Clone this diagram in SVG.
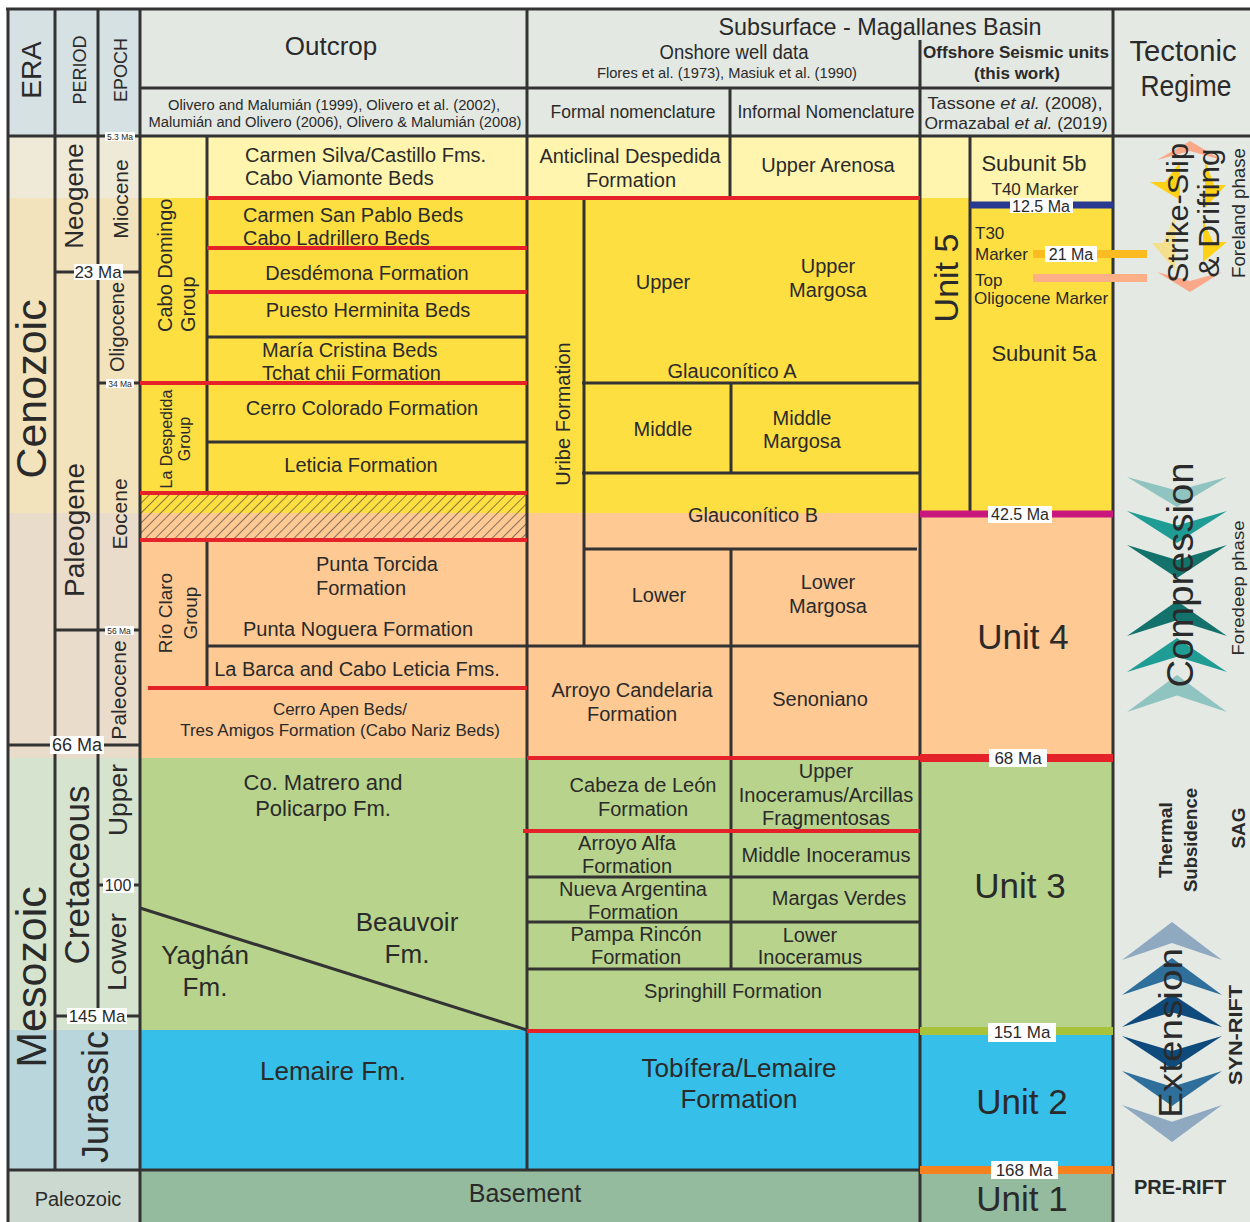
<svg xmlns="http://www.w3.org/2000/svg" width="1250" height="1222" viewBox="0 0 1250 1222">
<style>
text{font-family:"Liberation Sans",Arial,sans-serif;fill:#2a2a2a;dominant-baseline:central;text-anchor:middle}
.s{text-anchor:start}
.b{font-weight:bold}
.ln{stroke:#333;stroke-width:3;fill:none}
.red{stroke:#e52229;stroke-width:4;fill:none}
.lbl{fill:#fff}
</style>
<defs>
<pattern id="hatch" patternUnits="userSpaceOnUse" width="7" height="7" patternTransform="rotate(45)">
<line x1="0" y1="0" x2="0" y2="7" stroke="#333" stroke-width="1.2"/>
</pattern>
</defs>

<g id="bands">
<rect x="8" y="9" width="132" height="127" fill="#d6e1e4"/>
<rect x="140" y="9" width="973" height="127" fill="#e3e8e3"/>
<rect x="1113" y="9" width="137" height="1213" fill="#e4e9e4"/>
<rect x="8" y="136" width="132" height="62" fill="#efe9d7"/>
<rect x="8" y="198" width="132" height="315" fill="#f3e3bd"/>
<rect x="8" y="513" width="132" height="245" fill="#eadccb"/>
<rect x="8" y="758" width="132" height="272" fill="#d6e4cf"/>
<rect x="8" y="1030" width="132" height="140" fill="#b9d6dc"/>
<rect x="8" y="1170" width="132" height="52" fill="#ccd9d0"/>
<rect x="140" y="136" width="973" height="62" fill="#fff5ae"/>
<rect x="140" y="198" width="973" height="315" fill="#fedf42"/>
<rect x="970" y="198" width="143" height="7" fill="#fff5ae"/>
<rect x="140" y="513" width="973" height="245" fill="#fec993"/>
<rect x="140" y="758" width="973" height="272" fill="#b8d48c"/>
<rect x="140" y="1030" width="973" height="140" fill="#36bfe9"/>
<rect x="140" y="1170" width="973" height="52" fill="#95bb9f"/>
<rect x="140" y="493" width="387" height="47" fill="url(#hatch)"/>
</g>

<g id="grid">
<line class="ln" x1="6" y1="9" x2="1250" y2="9"/>
<line class="ln" x1="8" y1="9" x2="8" y2="1222"/>
<line class="ln" x1="55" y1="9" x2="55" y2="1170"/>
<line class="ln" x1="98" y1="9" x2="98" y2="1016"/>
<line class="ln" x1="140" y1="9" x2="140" y2="1222"/>
<line class="ln" x1="527" y1="9" x2="527" y2="1170"/>
<line class="ln" x1="920" y1="40" x2="920" y2="1222"/>
<line class="ln" x1="1113" y1="9" x2="1113" y2="1222"/>
<line class="ln" x1="140" y1="88" x2="1113" y2="88"/>
<line class="ln" x1="8" y1="136" x2="1250" y2="136"/>
<line class="ln" x1="8" y1="1170" x2="1113" y2="1170"/>
<line class="ln" x1="730" y1="88" x2="730" y2="198"/>
<line class="ln" x1="55" y1="272" x2="140" y2="272"/>
<line class="ln" x1="98" y1="383" x2="140" y2="383"/>
<line class="ln" x1="55" y1="630" x2="140" y2="630"/>
<line class="ln" x1="8" y1="745" x2="140" y2="745"/>
<line class="ln" x1="98" y1="885" x2="140" y2="885"/>
<line class="ln" x1="55" y1="1016" x2="140" y2="1016"/>
<line class="ln" x1="207" y1="136" x2="207" y2="493"/>
<line class="ln" x1="207" y1="540" x2="207" y2="688"/>
<line class="ln" x1="207" y1="337" x2="527" y2="337"/>
<line class="ln" x1="207" y1="442" x2="527" y2="442"/>
<line class="ln" x1="207" y1="646" x2="920" y2="646"/>
<line class="ln" x1="140" y1="908" x2="527" y2="1030"/>
<line class="ln" x1="584" y1="198" x2="584" y2="646"/>
<line class="ln" x1="582" y1="383" x2="920" y2="383"/>
<line class="ln" x1="582" y1="473" x2="920" y2="473"/>
<line class="ln" x1="731" y1="383" x2="731" y2="473"/>
<line class="ln" x1="584" y1="549" x2="917" y2="549"/>
<line class="ln" x1="731" y1="549" x2="731" y2="969"/>
<line class="ln" x1="527" y1="877" x2="920" y2="877"/>
<line class="ln" x1="527" y1="922" x2="920" y2="922"/>
<line class="ln" x1="527" y1="969" x2="920" y2="969"/>
<line class="ln" x1="970" y1="136" x2="970" y2="511"/>
</g>

<g id="red-boundaries">
<line class="red" x1="207" y1="198" x2="920" y2="198"/>
<line class="red" x1="207" y1="248" x2="527" y2="248"/>
<line class="red" x1="207" y1="292" x2="527" y2="292"/>
<line class="red" x1="140" y1="383" x2="527" y2="383"/>
<line class="red" x1="140" y1="493" x2="527" y2="493"/>
<line class="red" x1="140" y1="540" x2="527" y2="540"/>
<line class="red" x1="148" y1="688" x2="527" y2="688"/>
<line class="red" x1="527" y1="758" x2="920" y2="758"/>
<line class="red" x1="523" y1="831" x2="920" y2="831"/>
<line class="red" x1="527" y1="1031" x2="920" y2="1031"/>
</g>

<g id="seismic-horizons">
<line x1="970" y1="205" x2="1113" y2="205" stroke="#2a3990" stroke-width="7"/>
<line x1="1033" y1="254" x2="1147" y2="254" stroke="#fbbb21" stroke-width="8"/>
<line x1="1033" y1="278" x2="1147" y2="278" stroke="#fdb088" stroke-width="8"/>
<line x1="920" y1="514" x2="1113" y2="514" stroke="#c9177e" stroke-width="7"/>
<line x1="920" y1="758" x2="1113" y2="758" stroke="#e52229" stroke-width="8"/>
<line x1="920" y1="1031" x2="1113" y2="1031" stroke="#a9c23b" stroke-width="8"/>
<line x1="920" y1="1170" x2="1113" y2="1170" stroke="#f5821f" stroke-width="8"/>
<rect class="lbl" x="1010" y="198" width="63" height="15"/><text x="1041" y="206" font-size="16">12.5 Ma</text>
<rect class="lbl" x="1045" y="246" width="52" height="16"/><text x="1071" y="254" font-size="16">21 Ma</text>
<rect class="lbl" x="988" y="506" width="64" height="17"/><text x="1020" y="514.5" font-size="16">42.5 Ma</text>
<rect class="lbl" x="989" y="749" width="58" height="18"/><text x="1018" y="758" font-size="17">68 Ma</text>
<rect class="lbl" x="988" y="1023" width="68" height="19"/><text x="1022" y="1032" font-size="17">151 Ma</text>
<rect class="lbl" x="991" y="1161" width="67" height="18"/><text x="1024" y="1170" font-size="17">168 Ma</text>
</g>

<g id="age-labels">
<rect class="lbl" x="105" y="132" width="30" height="9"/><text x="120" y="136.5" font-size="8.5">5.3 Ma</text>
<rect class="lbl" x="74" y="264" width="49" height="16"/><text x="98" y="272" font-size="17">23 Ma</text>
<rect class="lbl" x="106" y="379" width="28" height="9"/><text x="120" y="383.5" font-size="8.5">34 Ma</text>
<rect class="lbl" x="105" y="626" width="29" height="9"/><text x="119" y="630.5" font-size="8.5">56 Ma</text>
<rect class="lbl" x="50" y="736" width="54" height="18"/><text x="77" y="745" font-size="18">66 Ma</text>
<rect class="lbl" x="103" y="878" width="31" height="15"/><text x="118" y="885.5" font-size="16">100</text>
<rect class="lbl" x="67" y="1008" width="60" height="16"/><text x="97" y="1016" font-size="17">145 Ma</text>
</g>

<g id="header">
<text transform="translate(31,70) rotate(-90)" font-size="28">ERA</text>
<text transform="translate(80,70) rotate(-90)" font-size="18">PERIOD</text>
<text transform="translate(121,70) rotate(-90)" font-size="18">EPOCH</text>
<text x="331" y="46" font-size="26">Outcrop</text>
<text x="334" y="104" font-size="15.5" textLength="332" lengthAdjust="spacingAndGlyphs">Olivero and Malumián (1999), Olivero et al. (2002),</text>
<text x="335" y="121" font-size="15.5" textLength="373" lengthAdjust="spacingAndGlyphs">Malumián and Olivero (2006), Olivero &amp; Malumián (2008)</text>
<text x="880" y="26" font-size="24" textLength="323" lengthAdjust="spacingAndGlyphs">Subsurface - Magallanes Basin</text>
<text x="734" y="52" font-size="20" textLength="149" lengthAdjust="spacingAndGlyphs">Onshore well data</text>
<text x="727" y="72" font-size="15" textLength="260" lengthAdjust="spacingAndGlyphs">Flores et al. (1973), Masiuk et al. (1990)</text>
<text class="b" x="1016" y="52" font-size="17" textLength="186" lengthAdjust="spacingAndGlyphs">Offshore Seismic units</text>
<text class="b" x="1017" y="73" font-size="17" textLength="86" lengthAdjust="spacingAndGlyphs">(this work)</text>
<text x="633" y="112" font-size="18" textLength="165" lengthAdjust="spacingAndGlyphs">Formal nomenclature</text>
<text x="826" y="112" font-size="18" textLength="177" lengthAdjust="spacingAndGlyphs">Informal Nomenclature</text>
<text x="1015" y="103" font-size="17" textLength="175" lengthAdjust="spacingAndGlyphs">Tassone <tspan font-style="italic">et al.</tspan> (2008),</text>
<text x="1016" y="123" font-size="17" textLength="183" lengthAdjust="spacingAndGlyphs">Ormazabal <tspan font-style="italic">et al.</tspan> (2019)</text>
<text x="1183" y="50" font-size="30" textLength="107" lengthAdjust="spacingAndGlyphs">Tectonic</text>
<text x="1186" y="85" font-size="30" textLength="91" lengthAdjust="spacingAndGlyphs">Regime</text>
</g>

<g id="chronostratigraphy">
<text transform="translate(31,389) rotate(-90)" font-size="43">Cenozoic</text>
<text transform="translate(31,977) rotate(-90)" font-size="43">Mesozoic</text>
<text x="78" y="1199" font-size="20">Paleozoic</text>
<text transform="translate(74,196) rotate(-90)" font-size="26">Neogene</text>
<text transform="translate(74,530) rotate(-90)" font-size="28">Paleogene</text>
<text transform="translate(76,875) rotate(-90)" font-size="35">Cretaceous</text>
<text transform="translate(95,1097) rotate(-90)" font-size="36">Jurassic</text>
<text transform="translate(120,199) rotate(-90)" font-size="21">Miocene</text>
<text transform="translate(117,327) rotate(-90)" font-size="20">Oligocene</text>
<text transform="translate(119,514) rotate(-90)" font-size="21">Eocene</text>
<text transform="translate(118,690) rotate(-90)" font-size="21">Paleocene</text>
<text transform="translate(118,800) rotate(-90)" font-size="25" textLength="72" lengthAdjust="spacingAndGlyphs">Upper</text>
<text transform="translate(117,952) rotate(-90)" font-size="25" textLength="78" lengthAdjust="spacingAndGlyphs">Lower</text>
</g>

<g id="outcrop">
<text class="s" x="245" y="155" font-size="20">Carmen Silva/Castillo Fms.</text>
<text class="s" x="245" y="178" font-size="20">Cabo Viamonte Beds</text>
<text class="s" x="243" y="215" font-size="20">Carmen San Pablo Beds</text>
<text class="s" x="243" y="238" font-size="20">Cabo Ladrillero Beds</text>
<text x="367" y="273" font-size="20">Desdémona Formation</text>
<text x="368" y="310" font-size="20">Puesto Herminita Beds</text>
<text class="s" x="262" y="350" font-size="20">María Cristina Beds</text>
<text class="s" x="262" y="373" font-size="20">Tchat chii Formation</text>
<text x="362" y="408" font-size="20">Cerro Colorado Formation</text>
<text x="361" y="465" font-size="20">Leticia Formation</text>
<text class="s" transform="translate(165,332) rotate(-90)" font-size="20">Cabo Domingo</text>
<text class="s" transform="translate(188,332) rotate(-90)" font-size="20">Group</text>
<text transform="translate(166,439) rotate(-90)" font-size="16">La Despedida</text>
<text transform="translate(184,439) rotate(-90)" font-size="16">Group</text>
<text transform="translate(165,613) rotate(-90)" font-size="19">Río Claro</text>
<text transform="translate(190,613) rotate(-90)" font-size="19">Group</text>
<text class="s" x="316" y="564" font-size="20">Punta Torcida</text>
<text class="s" x="316" y="588" font-size="20">Formation</text>
<text x="358" y="629" font-size="20">Punta Noguera Formation</text>
<text x="357" y="669" font-size="20">La Barca and Cabo Leticia Fms.</text>
<text x="340" y="709" font-size="17">Cerro Apen Beds/</text>
<text x="340" y="730" font-size="17">Tres Amigos Formation (Cabo Nariz Beds)</text>
<text x="323" y="782" font-size="22">Co. Matrero and</text>
<text x="323" y="808" font-size="22">Policarpo Fm.</text>
<text x="407" y="922" font-size="26">Beauvoir</text>
<text x="407" y="954" font-size="26">Fm.</text>
<text x="205" y="955" font-size="26">Yaghán</text>
<text x="205" y="987" font-size="26">Fm.</text>
<text x="333" y="1071" font-size="26">Lemaire Fm.</text>
<text x="525" y="1193" font-size="25">Basement</text>
</g>

<g id="subsurface">
<text x="630" y="156" font-size="20">Anticlinal Despedida</text>
<text x="631" y="180" font-size="20">Formation</text>
<text x="828" y="165" font-size="20">Upper Arenosa</text>
<text transform="translate(563,414) rotate(-90)" font-size="20">Uribe Formation</text>
<text x="663" y="282" font-size="20">Upper</text>
<text x="828" y="266" font-size="20">Upper</text>
<text x="828" y="290" font-size="20">Margosa</text>
<text x="732" y="371" font-size="20">Glauconítico A</text>
<text x="663" y="429" font-size="20">Middle</text>
<text x="802" y="418" font-size="20">Middle</text>
<text x="802" y="441" font-size="20">Margosa</text>
<text x="753" y="515" font-size="20">Glauconítico B</text>
<text x="659" y="595" font-size="20">Lower</text>
<text x="828" y="582" font-size="20">Lower</text>
<text x="828" y="606" font-size="20">Margosa</text>
<text x="632" y="690" font-size="20">Arroyo Candelaria</text>
<text x="632" y="714" font-size="20">Formation</text>
<text x="820" y="699" font-size="20">Senoniano</text>
<text x="643" y="785" font-size="20">Cabeza de León</text>
<text x="643" y="809" font-size="20">Formation</text>
<text x="826" y="771" font-size="20">Upper</text>
<text x="826" y="795" font-size="20">Inoceramus/Arcillas</text>
<text x="826" y="818" font-size="20">Fragmentosas</text>
<text x="627" y="843" font-size="20">Arroyo Alfa</text>
<text x="627" y="866" font-size="20">Formation</text>
<text x="826" y="855" font-size="20">Middle Inoceramus</text>
<text x="633" y="889" font-size="20">Nueva Argentina</text>
<text x="633" y="912" font-size="20">Formation</text>
<text x="839" y="898" font-size="20">Margas Verdes</text>
<text x="636" y="934" font-size="20">Pampa Rincón</text>
<text x="636" y="957" font-size="20">Formation</text>
<text x="810" y="935" font-size="20">Lower</text>
<text x="810" y="957" font-size="20">Inoceramus</text>
<text x="733" y="991" font-size="20">Springhill Formation</text>
<text x="739" y="1068" font-size="26">Tobífera/Lemaire</text>
<text x="739" y="1099" font-size="26">Formation</text>
</g>

<g id="offshore-units">
<text x="1034" y="163" font-size="22">Subunit 5b</text>
<text x="1035" y="189" font-size="17">T40 Marker</text>
<text transform="translate(946,278) rotate(-90)" font-size="34">Unit 5</text>
<text class="s" x="975" y="233" font-size="17">T30</text>
<text class="s" x="975" y="254" font-size="17">Marker</text>
<text class="s" x="975" y="280" font-size="17">Top</text>
<text class="s" x="974" y="298" font-size="17">Oligocene Marker</text>
<text x="1044" y="353" font-size="22">Subunit 5a</text>
<text x="1023" y="636" font-size="35">Unit 4</text>
<text x="1020" y="885" font-size="35">Unit 3</text>
<text x="1022" y="1101" font-size="35">Unit 2</text>
<text x="1022" y="1198" font-size="35">Unit 1</text>
</g>

<g id="tectonic-regime">
<polygon points="1157,160 1190,151 1222,160 1190,141" fill="#f9a98a"/>
<polygon points="1150,182 1165,182 1180,162 1180,200" fill="#fcd116"/>
<polygon points="1226,185 1214,185 1205,160 1205,208" fill="#fcd116"/>
<polygon points="1152,243 1163,243 1175,215 1175,270" fill="#f4e08c"/>
<polygon points="1227,242 1213,242 1203,220 1203,262" fill="#fcd116"/>
<polygon points="1157,272 1190,281 1222,272 1190,292" fill="#f9a98a"/>
<text transform="translate(1177,213) rotate(-90)" font-size="30" textLength="140" lengthAdjust="spacingAndGlyphs">Strike-Slip</text>
<text transform="translate(1208,213) rotate(-90)" font-size="30" textLength="129" lengthAdjust="spacingAndGlyphs">&amp; Drifting</text>
<text transform="translate(1239,213) rotate(-90)" font-size="18" textLength="130" lengthAdjust="spacingAndGlyphs">Foreland phase</text>

<polygon points="1127,477 1177,490.5 1227,477 1177,507" fill="#8fc4c0"/>
<polygon points="1127,511 1177,525.4 1227,511 1177,543" fill="#1f9d95"/>
<polygon points="1127,545 1177,559.9 1227,545 1177,578" fill="#13736c"/>
<polygon points="1127,636 1177,620.3 1227,636 1177,601" fill="#13736c"/>
<polygon points="1127,672 1177,656.7 1227,672 1177,638" fill="#1f9d95"/>
<polygon points="1127,712 1177,695.4 1227,712 1177,675" fill="#8fc4c0"/>
<text transform="translate(1180,575) rotate(-90)" font-size="36" textLength="225" lengthAdjust="spacingAndGlyphs">Compression</text>
<text transform="translate(1238,588) rotate(-90)" font-size="17" textLength="135" lengthAdjust="spacingAndGlyphs">Foredeep phase</text>

<text class="b" transform="translate(1166,840) rotate(-90)" font-size="18" textLength="76" lengthAdjust="spacingAndGlyphs">Thermal</text>
<text class="b" transform="translate(1191,840) rotate(-90)" font-size="18" textLength="104" lengthAdjust="spacingAndGlyphs">Subsidence</text>
<text class="b" transform="translate(1238,828) rotate(-90)" font-size="19">SAG</text>

<polygon points="1122,960 1172,942.9 1222,960 1172,922" fill="#8fa9c1"/>
<polygon points="1122,995 1172,978.4 1222,995 1172,958" fill="#2f6f9b"/>
<polygon points="1122,1027 1172,1012.2 1222,1027 1172,994" fill="#0e4a7c"/>
<polygon points="1122,1036 1172,1050.9 1222,1036 1172,1069" fill="#0e4a7c"/>
<polygon points="1122,1071 1172,1086.8 1222,1071 1172,1106" fill="#2f6f9b"/>
<polygon points="1122,1105 1172,1121.7 1222,1105 1172,1142" fill="#8fa9c1"/>
<text transform="translate(1170,1033) rotate(-90)" font-size="34" textLength="170" lengthAdjust="spacingAndGlyphs">Extension</text>
<text class="b" transform="translate(1236,1035) rotate(-90)" font-size="18" textLength="100" lengthAdjust="spacingAndGlyphs">SYN-RIFT</text>
<text class="b" x="1180" y="1187" font-size="20">PRE-RIFT</text>
</g>
</svg>
